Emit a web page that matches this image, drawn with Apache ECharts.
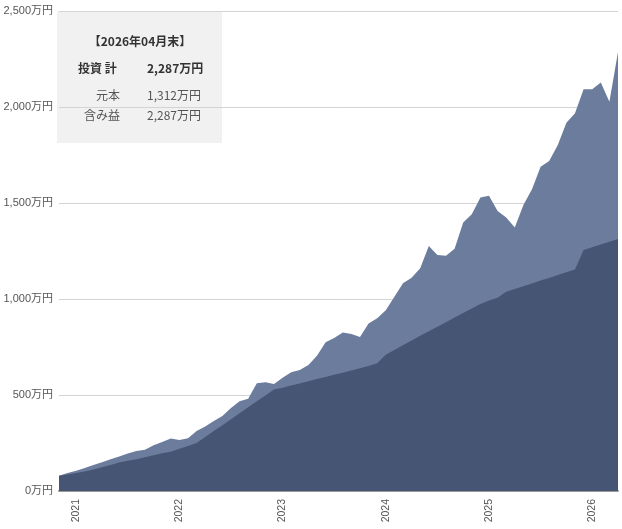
<!DOCTYPE html>
<html>
<head>
<meta charset="utf-8">
<script src="https://cdn.jsdelivr.net/npm/echarts@6/dist/echarts.min.js"></script>
<style>
  html, body { margin: 0; padding: 0; background: #fff; }
  #chart { width: 622px; height: 529px; }
</style>
</head>
<body>
<div id="chart"></div>
<script>
// 月次（2020年11月〜2026年04月）、単位：万円
const months = [
    '2020-11', '2020-12',
    '2021-01', '2021-02', '2021-03', '2021-04', '2021-05', '2021-06', '2021-07', '2021-08', '2021-09', '2021-10', '2021-11', '2021-12',
    '2022-01', '2022-02', '2022-03', '2022-04', '2022-05', '2022-06', '2022-07', '2022-08', '2022-09', '2022-10', '2022-11', '2022-12',
    '2023-01', '2023-02', '2023-03', '2023-04', '2023-05', '2023-06', '2023-07', '2023-08', '2023-09', '2023-10', '2023-11', '2023-12',
    '2024-01', '2024-02', '2024-03', '2024-04', '2024-05', '2024-06', '2024-07', '2024-08', '2024-09', '2024-10', '2024-11', '2024-12',
    '2025-01', '2025-02', '2025-03', '2025-04', '2025-05', '2025-06', '2025-07', '2025-08', '2025-09', '2025-10', '2025-11', '2025-12',
    '2026-01', '2026-02', '2026-03', '2026-04'
];

// 評価額合計
const totalValue = [
    80, 94,
    106, 120, 136, 150, 165, 180, 195, 208, 215, 238, 255, 273,
    266, 275, 312, 336, 365, 390, 432, 467, 480, 561, 566, 557,
    590, 618, 630, 656, 705, 775, 797, 826, 818, 802, 873, 900,
    942, 1012, 1082, 1111, 1160, 1276, 1229, 1225, 1262, 1399, 1441, 1528,
    1538, 1458, 1425, 1373, 1489, 1571, 1689, 1719, 1802, 1918, 1967, 2092,
    2092, 2128, 2027, 2287
];

// 元本
const principal = [
    80, 86,
    94, 102, 112, 124, 136, 148, 158, 166, 176, 186, 196, 205,
    220, 234, 250, 281, 312, 343, 374, 405, 436, 467, 498, 528,
    538, 549, 560, 572, 583, 594, 605, 616, 628, 639, 651, 665,
    710, 734, 759, 784, 808, 832, 855, 879, 903, 927, 950, 974,
    992, 1006, 1038, 1052, 1067, 1081, 1096, 1110, 1125, 1139, 1154, 1255,
    1269, 1284, 1298, 1312
];

const yTicks = [0, 500, 1000, 1500, 2000, 2500];

const fmtMan = v => Number(v).toLocaleString('en-US') + '万円';
const FONT = '"Noto Sans CJK JP", "Noto Sans", sans-serif';
const AXIS_FONT = '"Liberation Sans", "Noto Sans CJK JP", sans-serif';

const last = months.length - 1;
const [lastY, lastM] = months[last].split('-');
const summary = {
    title: `【${lastY}年${lastM}月末】`,
    total: fmtMan(totalValue[last]),
    principal: fmtMan(principal[last]),
    gain: fmtMan(totalValue[last]) // 元の表示どおり
};

const chart = echarts.init(document.getElementById('chart'));
chart.setOption({
    animation: false,
    grid: { left: 59, right: 4, top: 11, bottom: 38 },
    xAxis: {
        type: 'category',
        boundaryGap: false,
        data: months,
        axisLine: { lineStyle: { color: '#999', width: 2 } },
        axisTick: { show: false },
        axisLabel: {
            interval: (i, v) => v.endsWith('-01'),
            formatter: v => v.slice(0, 4),
            rotate: 90,
            color: '#555',
            fontSize: 10.5,
            fontFamily: AXIS_FONT,
            margin: 8
        },
        splitLine: { show: false }
    },
    yAxis: {
        type: 'value',
        min: yTicks[0],
        max: yTicks[yTicks.length - 1],
        interval: 500,
        axisLine: { show: false },
        axisTick: { show: false },
        axisLabel: { formatter: fmtMan, color: '#555', fontSize: 11, fontFamily: AXIS_FONT, margin: 6 },
        splitLine: { lineStyle: { color: '#d4d4d4', width: 1 } }
    },
    series: [
        {
            name: '投資 計',
            type: 'line',
            data: totalValue,
            symbol: 'none',
            lineStyle: { width: 0 },
            areaStyle: { color: '#6b7c9c', opacity: 1 },
            z: 2
        },
        {
            name: '元本',
            type: 'line',
            data: principal,
            symbol: 'none',
            lineStyle: { width: 0 },
            areaStyle: { color: '#455573', opacity: 1 },
            z: 3
        }
    ],
    graphic: [{
        type: 'group',
        left: 57,
        top: 11,
        z: 100,
        children: [
            { type: 'rect', shape: { x: 0, y: 0, width: 165, height: 132 }, style: { fill: 'rgba(240,240,240,0.93)' } },
            { type: 'text', x: 83, y: 30, style: { text: summary.title, fill: '#333', font: `bold 12px ${FONT}`, textAlign: 'center', textVerticalAlign: 'middle' } },
            { type: 'text', x: 21, y: 57, style: { text: '投資 計', fill: '#333', font: `bold 12px ${FONT}`, textVerticalAlign: 'middle' } },
            { type: 'text', x: 90, y: 57, style: { text: summary.total, fill: '#333', font: `bold 12px ${FONT}`, textVerticalAlign: 'middle' } },
            { type: 'text', x: 63, y: 84, style: { text: '元本', fill: '#555', font: `12px ${FONT}`, textAlign: 'right', textVerticalAlign: 'middle' } },
            { type: 'text', x: 90, y: 84, style: { text: summary.principal, fill: '#555', font: `12px ${FONT}`, textVerticalAlign: 'middle' } },
            { type: 'text', x: 63, y: 104, style: { text: '含み益', fill: '#555', font: `12px ${FONT}`, textAlign: 'right', textVerticalAlign: 'middle' } },
            { type: 'text', x: 90, y: 104, style: { text: summary.gain, fill: '#555', font: `12px ${FONT}`, textVerticalAlign: 'middle' } }
        ]
    }]
});
</script>
</body>
</html>
